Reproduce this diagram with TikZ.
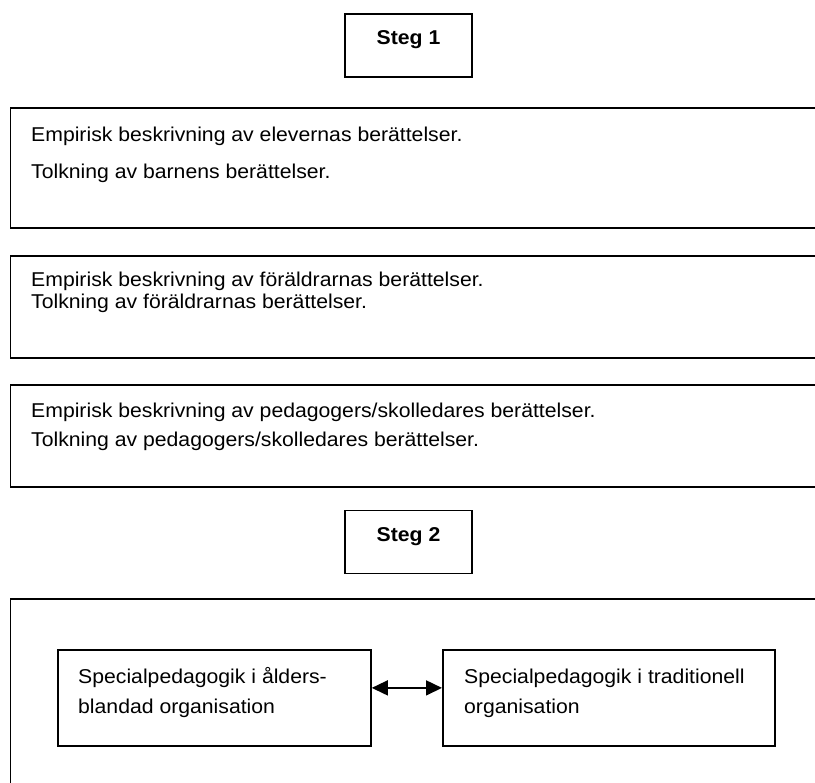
\documentclass[tikz,border=0pt]{standalone}
\usepackage{fontspec}
\setmainfont{Liberation Sans}[FakeStretch=1.06]
\usetikzlibrary{positioning,arrows.meta}

\begin{document}
\begin{tikzpicture}[x=1pt, y=-1pt,
    font=\fontsize{20}{22}\selectfont,
    stegbox/.style={rectangle, draw, line width=1.8pt, font=\fontsize{20}{22}\selectfont\bfseries, minimum width=127pt, minimum height=63pt, text height=14pt, text depth=15pt},
    textbox/.style={rectangle, draw, line width=1.8pt, anchor=north west, minimum width=830pt, minimum height=#1},
    innerbox/.style={rectangle, draw, line width=1.8pt, anchor=north west, minimum width=#1, minimum height=96pt},
    line/.style={anchor=base west, inner sep=0pt},
    arrow/.style={{Triangle[length=16pt,width=15pt]}-{Triangle[length=16pt,width=15pt]}, line width=1.6pt}]

    \useasboundingbox (0,0) rectangle (815,783);
    \clip (0,0) rectangle (815,783);

    % steg 1
    \node[stegbox] (steg1) at (408.5,45.5) {Steg 1};

    \node[textbox=120pt] (elever) at (9.5,107) {};
    \node[line] (elever1) at (31,141.7) {Empirisk beskrivning av elevernas berättelser.};
    \node[line] (elever2) at (31,179) {Tolkning av barnens berättelser.};

    \node[textbox=102pt] (foraldrar) at (9.5,255) {};
    \node[line] (foraldrar1) at (31,286.7) {Empirisk beskrivning av föräldrarnas berättelser.};
    \node[line] (foraldrar2) at (31,308.3) {Tolkning av föräldrarnas berättelser.};

    \node[textbox=102pt] (pedagoger) at (9.5,384) {};
    \node[line] (pedagoger1) at (31,417.7) {Empirisk beskrivning av pedagogers/skolledares berättelser.};
    \node[line] (pedagoger2) at (31,446.7) {Tolkning av pedagogers/skolledares berättelser.};

    % steg 2
    \node[stegbox] (steg2) at (408.5,542) {Steg 2};

    \node[textbox=220pt] (ram) at (9.5,598) {};
    \node[innerbox=313pt] (alder) at (57,649) {};
    \node[line] (alder1) at (78,684) {Specialpedagogik i ålders-};
    \node[line] (alder2) at (78,713.3) {blandad organisation};

    \node[innerbox=332pt] (trad) at (442,649) {};
    \node[line] (trad1) at (464,684) {Specialpedagogik i traditionell};
    \node[line] (trad2) at (464,713.3) {organisation};

    \draw[arrow] ([yshift=10pt]alder.east) -- ([yshift=10pt]trad.west);
\end{tikzpicture}
\end{document}
